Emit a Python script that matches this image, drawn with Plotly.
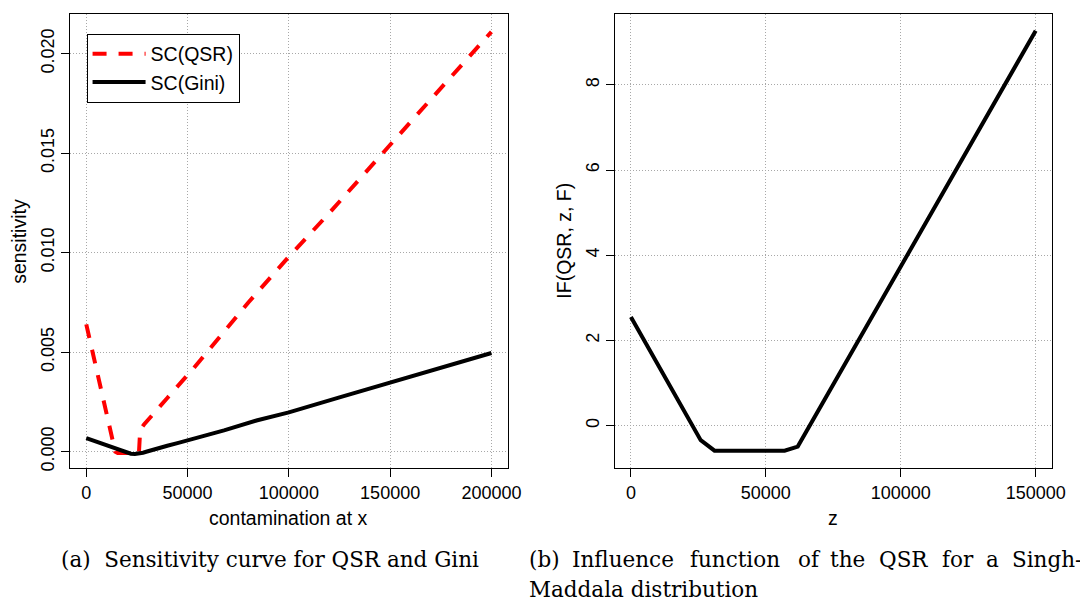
import plotly.graph_objects as go

# ---------------- data ----------------
qsr_x = [0, 5000, 10000, 14300, 15500, 20000, 26000, 26600, 28500, 40000, 53000,
         80000, 100000, 120000, 146000, 170000, 200000]
qsr_y = [0.0064, 0.0042, 0.0020, 0.0000, -0.00006, -0.00006, -0.00006, 0.0011, 0.00137,
         0.0027, 0.0042, 0.0075, 0.0098, 0.0120, 0.0150, 0.0177, 0.0211]

gini_x = [0, 5000, 10000, 15000, 18000, 20000, 22000, 24000, 26000, 28000, 30000,
          35000, 40000, 45000, 52000, 68000, 84000, 100000, 125000, 150000, 175000, 200000]
gini_y = [0.00068, 0.00050, 0.00030, 0.00012, 0.00002, -0.00006, -0.00010, -0.00011,
          -0.00009, -0.00005, 0.00001, 0.00017, 0.00030, 0.00043, 0.00062, 0.00107,
          0.00157, 0.00198, 0.00273, 0.00348, 0.00422, 0.00496]

if_z = [0, 25860, 30980, 56950, 61820, 150000]
if_y = [2.55, -0.34, -0.585, -0.585, -0.49, 9.27]

x1_ticks = [0, 50000, 100000, 150000, 200000]
x1_labels = ["0", "50000", "100000", "150000", "200000"]
y1_ticks = [0.000, 0.005, 0.010, 0.015, 0.020]
y1_labels = ["0.000", "0.005", "0.010", "0.015", "0.020"]
x2_ticks = [0, 50000, 100000, 150000]
x2_labels = ["0", "50000", "100000", "150000"]
y2_ticks = [0, 2, 4, 6, 8]
y2_labels = ["0", "2", "4", "6", "8"]

W, H = 1080, 602
def fx(px):
    return px / W
def fy(py):
    return 1 - py / H

SANS = "Liberation Sans, Arial, Helvetica, sans-serif"
SERIF = "DejaVu Serif, serif"

fig = go.Figure()
fig.add_trace(go.Scatter(x=qsr_x, y=qsr_y, mode="lines", name="SC(QSR)",
                         line=dict(color="#ff0000", width=4, dash="14px,12px"),
                         xaxis="x", yaxis="y"))
fig.add_trace(go.Scatter(x=gini_x, y=gini_y, mode="lines", name="SC(Gini)",
                         line=dict(color="#000000", width=4),
                         xaxis="x", yaxis="y"))
fig.add_trace(go.Scatter(x=if_z, y=if_y, mode="lines", name="IF",
                         line=dict(color="#000000", width=4),
                         showlegend=False, xaxis="x2", yaxis="y2"))

axis_common = dict(showline=True, mirror=True, linecolor="#000000", linewidth=1,
                   ticks="outside", ticklen=8, tickwidth=1, tickcolor="#000000",
                   showgrid=True, gridcolor="#a8a8a8", griddash="1px,2px", gridwidth=1,
                   zeroline=False, tickfont=dict(family=SANS, size=18, color="#000000"),
                   tickmode="array", fixedrange=True)

ydom = [fy(470.5), fy(14)]
fig.update_layout(
    width=W, height=H, autosize=False,
    margin=dict(l=0, r=0, t=0, b=0),
    paper_bgcolor="white", plot_bgcolor="white",
    xaxis=dict(domain=[fx(71), fx(514.3)], range=[-8000, 208000],
               tickvals=x1_ticks, ticktext=x1_labels, anchor="y", **axis_common),
    yaxis=dict(domain=ydom, range=[-0.000825, 0.022],
               tickvals=y1_ticks, ticktext=y1_labels, tickangle=-90, anchor="x",
               **axis_common),
    xaxis2=dict(domain=[fx(622.8), fx(1065.7)], range=[-6000, 156000],
                tickvals=x2_ticks, ticktext=x2_labels, anchor="y2", **axis_common),
    yaxis2=dict(domain=ydom, range=[-0.996, 9.664],
                tickvals=y2_ticks, ticktext=y2_labels, tickangle=-90, anchor="x2",
                **axis_common),
    showlegend=True,
    legend=dict(x=fx(87.7), y=fy(33.7), xanchor="left", yanchor="top",
                bordercolor="#000000", borderwidth=1, bgcolor="white",
                font=dict(family=SANS, size=19.5, color="#000000"),
                itemwidth=53, tracegroupgap=0),
)

ann = []
def add_text(text, x, y, size, family, angle=0, xanchor="center", yanchor="middle"):
    ann.append(dict(text=text, x=fx(x), y=fy(y), xref="paper", yref="paper",
                    showarrow=False, textangle=angle, xanchor=xanchor, yanchor=yanchor,
                    font=dict(family=family, size=size, color="#000000")))

# axis titles
add_text("sensitivity", 19, 242.3, 19.5, SANS, angle=-90)
add_text("contamination at x", 292.6, 521, 19.5, SANS)
add_text("IF(QSR, z, F)", 571, 242.3, 19.5, SANS, angle=-90)
add_text("z", 844, 521, 19.5, SANS)

# captions
add_text("(a)\u00a0\u00a0Sensitivity curve for QSR and Gini", 59.3, 562, 21.5, SERIF,
         xanchor="left")
words_b = ["(b)", "Influence", "function", "of", "the", "QSR", "for", "a", "Singh-"]
pos_b = [533.5, 577.4, 696.6, 806.4, 838.7, 888.7, 952.6, 996.5, 1022.8]
for w, p in zip(words_b, pos_b):
    add_text(w, p, 562, 21.5, SERIF, xanchor="left")
add_text("Maddala distribution", 533.5, 592, 21.5, SERIF, xanchor="left")

fig.update_layout(annotations=ann)
fig.write_html("out.html",
               post_script="document.body.style.margin='0';"
                           "document.body.style.overflow='hidden';")
